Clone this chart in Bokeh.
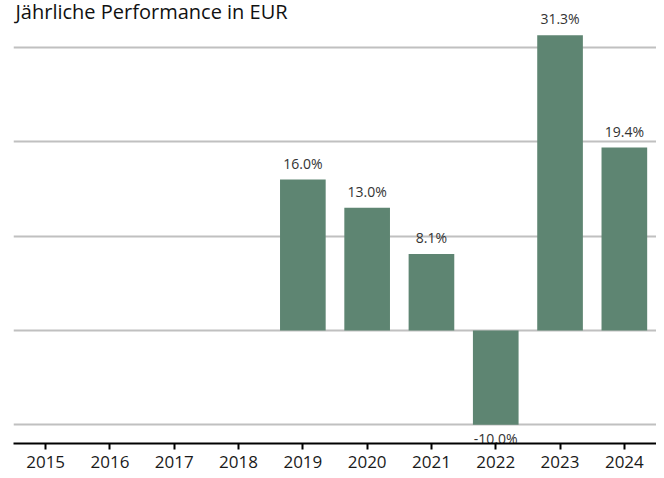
from bokeh.plotting import figure
from bokeh.models import ColumnDataSource, Range1d, FixedTicker, Label
from bokeh.core.properties import value
from bokeh.embed import file_html
from bokeh.resources import INLINE

title_text = "Jährliche Performance in EUR"
years = [2015, 2016, 2017, 2018, 2019, 2020, 2021, 2022, 2023, 2024]
perf_years = [2019, 2020, 2021, 2022, 2023, 2024]
perf = [16.0, 13.0, 8.1, -10.0, 31.3, 19.4]
grid_ticks = [-10, 0, 10, 20, 30]

FONT = "Open Sans"
BAR = "#5e8572"
Y_TOP = 35.0

src = ColumnDataSource(dict(x=perf_years, top=perf))
pos = ColumnDataSource(dict(x=[x for x, v in zip(perf_years, perf) if v >= 0],
                            y=[v for v in perf if v >= 0],
                            lbl=[f"{v:.1f}%" for v in perf if v >= 0]))
neg = ColumnDataSource(dict(x=[x for x, v in zip(perf_years, perf) if v < 0],
                            y=[v for v in perf if v < 0],
                            lbl=[f"{v:.1f}%" for v in perf if v < 0]))

p = figure(width=656, height=470, output_backend="svg", toolbar_location=None,
           x_range=Range1d(years[0] - 0.5, years[-1] + 0.5),
           y_range=Range1d(-12.0, Y_TOP),
           min_border_left=13, min_border_right=0, min_border_top=0,
           min_border_bottom=4)

p.outline_line_color = None
p.border_fill_color = "white"
p.background_fill_color = "white"
p.xgrid.visible = False
p.yaxis.visible = False
p.ygrid.ticker = FixedTicker(ticks=grid_ticks)
p.ygrid.grid_line_color = "#c0c0c0"
p.ygrid.grid_line_width = 2

p.vbar(x="x", top="top", bottom=0, width=0.71, source=src,
       fill_color=BAR, line_color=None)

p.text(x="x", y="y", text="lbl", source=pos, text_align="center",
       text_baseline="bottom", y_offset=-7, text_font=value(FONT),
       text_font_size="14px", text_color="#333333")
p.text(x="x", y="y", text="lbl", source=neg, text_align="center",
       text_baseline="top", y_offset=4, text_font=value(FONT),
       text_font_size="14px", text_color="#333333")

xa = p.xaxis[0]
xa.ticker = FixedTicker(ticks=years)
xa.axis_line_color = "black"
xa.axis_line_width = 2
xa.major_tick_line_color = "black"
xa.major_tick_line_width = 2
xa.major_tick_out = 6
xa.major_tick_in = 0
xa.minor_tick_line_color = None
xa.major_label_standoff = 6
xa.major_label_text_font = FONT
xa.major_label_text_font_size = "17px"
xa.major_label_text_color = "#1a1a1a"

p.add_layout(Label(x=years[0] - 0.5, y=Y_TOP, x_offset=2, y_offset=3,
                   text=title_text, text_baseline="top", text_align="left",
                   text_font=FONT, text_font_size="20px", text_color="#111111"))

open("out.html", "w").write(file_html(p, INLINE))
